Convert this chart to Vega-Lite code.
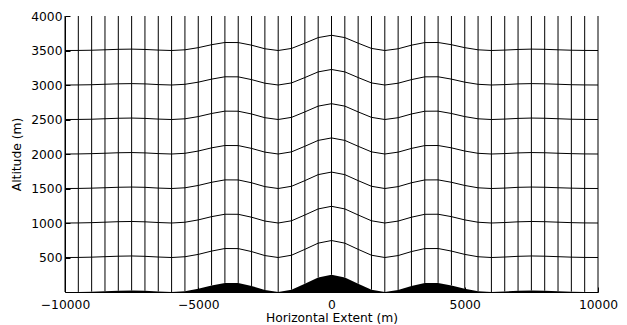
{
  "$schema": "https://vega.github.io/schema/vega-lite/v6.json",
  "width": 533,
  "height": 276,
  "autosize": {"type": "none"},
  "padding": {"left": 65, "top": 16, "right": 29, "bottom": 33},
  "config": {
    "view": {"stroke": null},
    "axis": {
      "grid": false,
      "domainColor": "#000",
      "domainWidth": 1,
      "tickColor": "#000",
      "labelColor": "#000",
      "titleColor": "#000",
      "labelFont": "DejaVu Sans",
      "titleFont": "DejaVu Sans",
      "labelFontSize": 12.3,
      "titleFontSize": 12.3,
      "titleFontWeight": "normal",
      "labelFlush": false,
      "labelOverlap": false,
      "format": "d"
    },
    "axisY": {"labelOverlap": false, "labelSeparation": 0}
  },
  "data": {
    "values": [
      {"x": -10000, "h": 0, "a": 500, "b": 1000, "c": 1500, "d": 2000, "e": 2500, "f": 3000, "g": 3500},
      {"x": -9500, "h": 1, "a": 501, "b": 1001, "c": 1501, "d": 2001, "e": 2501, "f": 3001, "g": 3501},
      {"x": -9000, "h": 5, "a": 505, "b": 1005, "c": 1505, "d": 2005, "e": 2504, "f": 3004, "g": 3504},
      {"x": -8500, "h": 12, "a": 512, "b": 1012, "c": 1511, "d": 2011, "e": 2511, "f": 3011, "g": 3510},
      {"x": -8000, "h": 19, "a": 519, "b": 1019, "c": 1518, "d": 2018, "e": 2518, "f": 3017, "g": 3517},
      {"x": -7500, "h": 22, "a": 522, "b": 1022, "c": 1521, "d": 2021, "e": 2521, "f": 3020, "g": 3520},
      {"x": -7000, "h": 18, "a": 517, "b": 1017, "c": 1517, "d": 2016, "e": 2516, "f": 3016, "g": 3515},
      {"x": -6500, "h": 7, "a": 507, "b": 1007, "c": 1506, "d": 2006, "e": 2506, "f": 3006, "g": 3506},
      {"x": -6000, "h": 0, "a": 500, "b": 1000, "c": 1500, "d": 2000, "e": 2500, "f": 3000, "g": 3500},
      {"x": -5500, "h": 11, "a": 511, "b": 1011, "c": 1510, "d": 2010, "e": 2510, "f": 3010, "g": 3510},
      {"x": -5000, "h": 46, "a": 545, "b": 1045, "c": 1544, "d": 2043, "e": 2542, "f": 3041, "g": 3541},
      {"x": -4500, "h": 95, "a": 593, "b": 1092, "c": 1590, "d": 2089, "e": 2587, "f": 3085, "g": 3584},
      {"x": -4000, "h": 132, "a": 630, "b": 1127, "c": 1625, "d": 2123, "e": 2621, "f": 3119, "g": 3616},
      {"x": -3500, "h": 131, "a": 629, "b": 1126, "c": 1624, "d": 2122, "e": 2620, "f": 3118, "g": 3615},
      {"x": -3000, "h": 87, "a": 586, "b": 1084, "c": 1583, "d": 2081, "e": 2580, "f": 3078, "g": 3577},
      {"x": -2500, "h": 29, "a": 528, "b": 1028, "c": 1527, "d": 2027, "e": 2526, "f": 3026, "g": 3525},
      {"x": -2000, "h": 0, "a": 500, "b": 1000, "c": 1500, "d": 2000, "e": 2500, "f": 3000, "g": 3500},
      {"x": -1500, "h": 33, "a": 533, "b": 1032, "c": 1532, "d": 2031, "e": 2531, "f": 3030, "g": 3530},
      {"x": -1000, "h": 120, "a": 618, "b": 1116, "c": 1614, "d": 2112, "e": 2610, "f": 3108, "g": 3606},
      {"x": -500, "h": 211, "a": 708, "b": 1204, "c": 1701, "d": 2197, "e": 2694, "f": 3190, "g": 3687},
      {"x": 0, "h": 250, "a": 746, "b": 1242, "c": 1738, "d": 2233, "e": 2729, "f": 3225, "g": 3721},
      {"x": 500, "h": 211, "a": 708, "b": 1204, "c": 1701, "d": 2197, "e": 2694, "f": 3190, "g": 3687},
      {"x": 1000, "h": 120, "a": 618, "b": 1116, "c": 1614, "d": 2112, "e": 2610, "f": 3108, "g": 3606},
      {"x": 1500, "h": 33, "a": 533, "b": 1032, "c": 1532, "d": 2031, "e": 2531, "f": 3030, "g": 3530},
      {"x": 2000, "h": 0, "a": 500, "b": 1000, "c": 1500, "d": 2000, "e": 2500, "f": 3000, "g": 3500},
      {"x": 2500, "h": 29, "a": 528, "b": 1028, "c": 1527, "d": 2027, "e": 2526, "f": 3026, "g": 3525},
      {"x": 3000, "h": 87, "a": 586, "b": 1084, "c": 1583, "d": 2081, "e": 2580, "f": 3078, "g": 3577},
      {"x": 3500, "h": 131, "a": 629, "b": 1126, "c": 1624, "d": 2122, "e": 2620, "f": 3118, "g": 3615},
      {"x": 4000, "h": 132, "a": 630, "b": 1127, "c": 1625, "d": 2123, "e": 2621, "f": 3119, "g": 3616},
      {"x": 4500, "h": 95, "a": 593, "b": 1092, "c": 1590, "d": 2089, "e": 2587, "f": 3085, "g": 3584},
      {"x": 5000, "h": 46, "a": 545, "b": 1045, "c": 1544, "d": 2043, "e": 2542, "f": 3041, "g": 3541},
      {"x": 5500, "h": 11, "a": 511, "b": 1011, "c": 1510, "d": 2010, "e": 2510, "f": 3010, "g": 3510},
      {"x": 6000, "h": 0, "a": 500, "b": 1000, "c": 1500, "d": 2000, "e": 2500, "f": 3000, "g": 3500},
      {"x": 6500, "h": 7, "a": 507, "b": 1007, "c": 1506, "d": 2006, "e": 2506, "f": 3006, "g": 3506},
      {"x": 7000, "h": 18, "a": 517, "b": 1017, "c": 1517, "d": 2016, "e": 2516, "f": 3016, "g": 3515},
      {"x": 7500, "h": 22, "a": 522, "b": 1022, "c": 1521, "d": 2021, "e": 2521, "f": 3020, "g": 3520},
      {"x": 8000, "h": 19, "a": 519, "b": 1019, "c": 1518, "d": 2018, "e": 2518, "f": 3017, "g": 3517},
      {"x": 8500, "h": 12, "a": 512, "b": 1012, "c": 1511, "d": 2011, "e": 2511, "f": 3011, "g": 3510},
      {"x": 9000, "h": 5, "a": 505, "b": 1005, "c": 1505, "d": 2005, "e": 2504, "f": 3004, "g": 3504},
      {"x": 9500, "h": 1, "a": 501, "b": 1001, "c": 1501, "d": 2001, "e": 2501, "f": 3001, "g": 3501},
      {"x": 10000, "h": 0, "a": 500, "b": 1000, "c": 1500, "d": 2000, "e": 2500, "f": 3000, "g": 3500}
    ]
  },
  "encoding": {
    "x": {
      "field": "x",
      "type": "quantitative",
      "scale": {"domain": [-10000, 10000], "nice": false, "zero": false},
      "axis": {
        "values": [-10000, -5000, 0, 5000, 10000],
        "tickSize": -5,
        "labelPadding": 11,
        "labelOverlap": false,
        "title": "Horizontal Extent (m)",
        "titlePadding": 1
      }
    },
    "y": {
      "field": "h",
      "type": "quantitative",
      "scale": {"domain": [0, 4000], "nice": false},
      "axis": {
        "values": [500, 1000, 1500, 2000, 2500, 3000, 3500, 4000],
        "tickSize": -5,
        "labelPadding": 8,
        "labelOverlap": false,
        "title": "Altitude (m)",
        "titlePadding": 7
      }
    }
  },
  "layer": [
    {
      "mark": {"type": "rule", "color": "#000", "strokeWidth": 1},
      "encoding": {
        "y2": {"datum": 4000}
      }
    },
    {
      "mark": {"type": "area", "color": "#000", "interpolate": "linear"}
    },
    {
      "transform": [
        {"fold": ["a", "b", "c", "d", "e", "f", "g"], "as": ["lev", "z"]}
      ],
      "mark": {"type": "line", "color": "#000", "strokeWidth": 1},
      "encoding": {
        "y": {"field": "z", "type": "quantitative", "axis": {
        "values": [500, 1000, 1500, 2000, 2500, 3000, 3500, 4000],
        "tickSize": -5,
        "labelPadding": 8,
        "labelOverlap": false,
        "title": "Altitude (m)",
        "titlePadding": 7
      }},
        "detail": {"field": "lev", "type": "nominal"}
      }
    }
  ]
}
